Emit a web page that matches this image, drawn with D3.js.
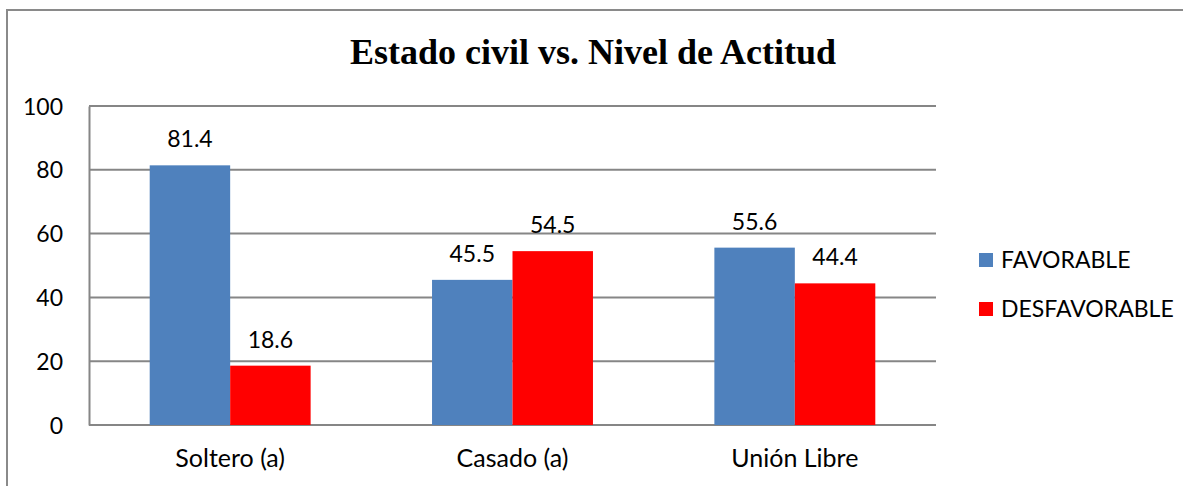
<!DOCTYPE html>
<html>
<head>
<meta charset="utf-8">
<script src="https://cdn.jsdelivr.net/npm/d3@7/dist/d3.min.js"></script>
<style>
  body { margin: 0; background: #fff; }
  svg text { font-family: Lato, "Open Sans", sans-serif; fill: #000; }
</style>
</head>
<body>
<div id="chart"></div>
<script>
const categories = ['Soltero (a)', 'Casado (a)', 'Unión Libre'];
const seriesNames = ['FAVORABLE', 'DESFAVORABLE'];
const favorable = [81.4, 45.5, 55.6];
const desfavorable = [18.6, 54.5, 44.4];
const yTicks = [0, 20, 40, 60, 80, 100];
const title = 'Estado civil vs. Nivel de Actitud';

const colors = { FAVORABLE: '#4f81bd', DESFAVORABLE: '#ff0000' };
const width = 1183, height = 486;
const plot = { left: 89, right: 936, top: 106, bottom: 425 };

const svg = d3.select('#chart').append('svg')
  .attr('width', width)
  .attr('height', height);

// outer frame (only left and top edges visible in the crop)
svg.append('path')
  .attr('d', `M7,${height + 5} L7,10 L${width + 5},10`)
  .attr('fill', 'none')
  .attr('stroke', '#8a8a8a')
  .attr('stroke-width', 2);

svg.append('text')
  .attr('x', 593)
  .attr('y', 64)
  .attr('text-anchor', 'middle')
  .style('font-family', '"Liberation Serif", "Times New Roman", serif')
  .style('font-weight', 'bold')
  .style('font-size', '36px')
  .text(title);

const x0 = d3.scaleBand()
  .domain(categories)
  .range([plot.left, plot.right])
  .paddingInner(0.43)
  .paddingOuter(0.215);

const x1 = d3.scaleBand()
  .domain(seriesNames)
  .range([0, x0.bandwidth()]);

const y = d3.scaleLinear()
  .domain([0, 100])
  .range([plot.bottom, plot.top]);

// gridlines
svg.append('g')
  .selectAll('line')
  .data(yTicks)
  .join('line')
  .attr('x1', plot.left)
  .attr('x2', plot.right)
  .attr('y1', d => y(d))
  .attr('y2', d => y(d))
  .attr('stroke', '#868686')
  .attr('stroke-width', 2);

// y axis
const yAxis = svg.append('g')
  .attr('transform', `translate(${plot.left},0)`)
  .call(d3.axisLeft(y).tickValues(yTicks).tickSize(0).tickPadding(26));
yAxis.select('.domain').attr('stroke', '#868686').attr('stroke-width', 2);
yAxis.selectAll('text')
  .style('font-size', '23px')
  .attr('dy', '0.35em');

const rows = categories.map((c, i) => ({
  category: c,
  values: [
    { key: 'FAVORABLE', value: favorable[i] },
    { key: 'DESFAVORABLE', value: desfavorable[i] }
  ]
}));

const groups = svg.append('g')
  .selectAll('g')
  .data(rows)
  .join('g')
  .attr('transform', d => `translate(${x0(d.category)},0)`);

groups.selectAll('rect')
  .data(d => d.values)
  .join('rect')
  .attr('x', d => x1(d.key))
  .attr('y', d => y(d.value))
  .attr('width', x1.bandwidth())
  .attr('height', d => y(0) - y(d.value))
  .attr('fill', d => colors[d.key]);

groups.selectAll('text')
  .data(d => d.values)
  .join('text')
  .attr('x', d => x1(d.key) + x1.bandwidth() / 2)
  .attr('y', d => y(d.value) - 18)
  .attr('text-anchor', 'middle')
  .style('font-size', '23px')
  .text(d => d.value.toFixed(1));

// category labels
svg.append('g')
  .selectAll('text')
  .data(categories)
  .join('text')
  .attr('x', d => x0(d) + x0.bandwidth() / 2)
  .attr('y', 467)
  .attr('text-anchor', 'middle')
  .style('font-size', '25px')
  .text(d => d);

// legend
const legend = svg.append('g')
  .selectAll('g')
  .data(seriesNames)
  .join('g')
  .attr('transform', (d, i) => `translate(979,${253 + i * 49})`);

legend.append('rect')
  .attr('width', 14)
  .attr('height', 14)
  .attr('fill', d => colors[d]);

legend.append('text')
  .attr('x', 22)
  .attr('y', 7)
  .attr('dy', '0.35em')
  .style('font-size', '23px')
  .text(d => d);
</script>
</body>
</html>
